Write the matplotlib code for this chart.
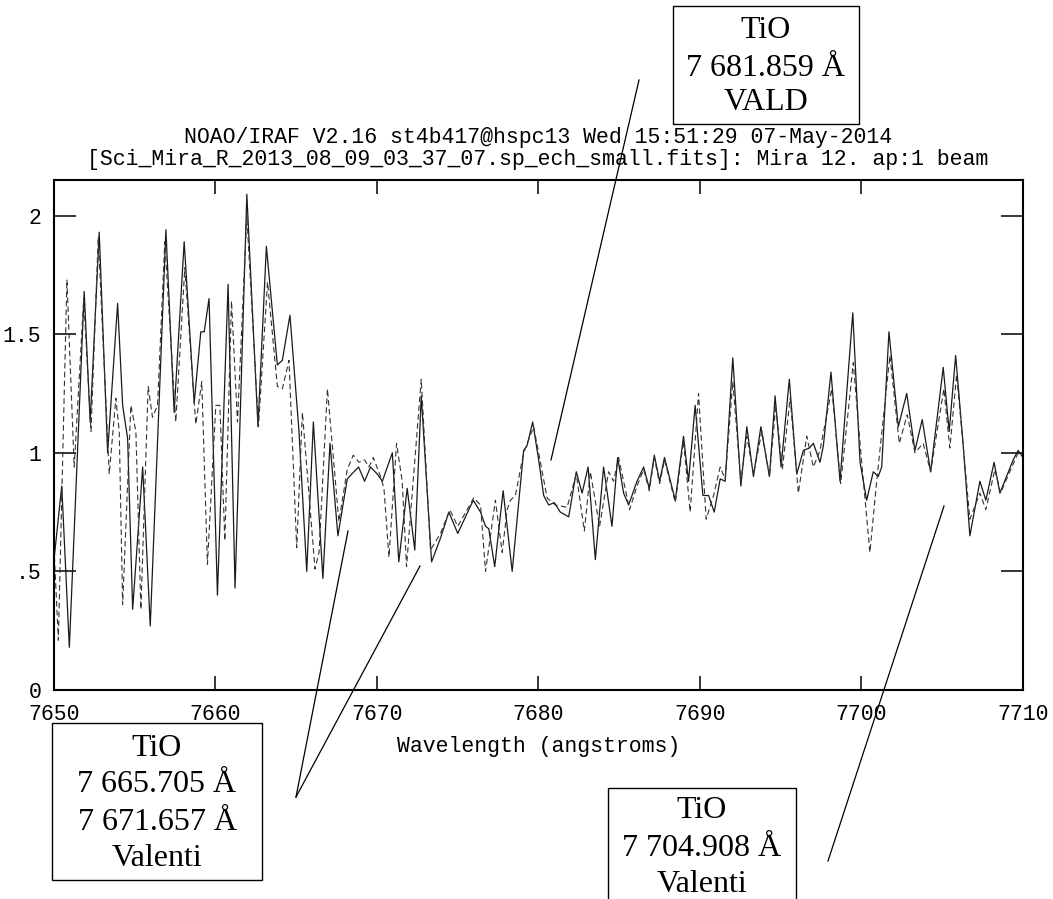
import matplotlib
matplotlib.use("Agg")
import matplotlib.pyplot as plt
import matplotlib.transforms as mtransforms
from matplotlib.patches import Rectangle
from matplotlib.lines import Line2D

# spectrum 1 (solid)
wl_solid = [7650.00, 7650.48, 7650.95, 7651.87, 7652.24, 7652.80, 7653.32, 7653.94, 7654.25, 7654.56,
            7654.87, 7655.49, 7655.96, 7656.93, 7657.44, 7658.06, 7658.68, 7659.09, 7659.30, 7659.60,
            7660.12, 7660.78, 7661.21, 7661.94, 7662.63, 7663.15, 7663.83, 7664.14, 7664.61, 7665.17,
            7665.65, 7666.06, 7666.65, 7667.09, 7667.58, 7668.16, 7668.57, 7668.86, 7669.23, 7669.60,
            7670.02, 7670.33, 7670.95, 7671.35, 7671.87, 7672.34, 7672.74, 7673.38, 7673.93, 7674.45,
            7675.00, 7675.48, 7675.96, 7676.41, 7676.72, 7676.92, 7677.29, 7677.81, 7678.37, 7679.08,
            7679.29, 7679.64, 7680.01, 7680.32, 7680.63, 7680.98, 7681.35, 7681.87, 7682.34, 7682.70,
            7683.07, 7683.52, 7684.03, 7684.55, 7684.90, 7685.27, 7685.58, 7686.10, 7686.51, 7686.86,
            7687.17, 7687.50, 7687.80, 7688.47, 7688.98, 7689.29, 7689.70, 7690.18, 7690.53, 7690.88,
            7691.25, 7691.56, 7692.03, 7692.53, 7692.90, 7693.31, 7693.77, 7694.30, 7694.65, 7695.02,
            7695.53, 7695.99, 7696.40, 7696.77, 7697.02, 7697.43, 7697.64, 7698.11, 7698.67, 7699.46,
            7699.91, 7700.32, 7700.73, 7701.04, 7701.25, 7701.70, 7702.28, 7702.80, 7703.31, 7703.76,
            7704.28, 7705.06, 7705.43, 7705.83, 7706.30, 7706.71, 7707.33, 7707.70, 7708.21, 7708.57,
            7708.98, 7709.39, 7709.70, 7710.00]
flux_solid = [0.55, 0.86, 0.18, 1.68, 1.13, 1.93, 1.00, 1.63, 1.20, 1.06,
              0.34, 0.94, 0.27, 1.94, 1.17, 1.89, 1.21, 1.51, 1.51, 1.65,
              0.40, 1.71, 0.43, 2.09, 1.11, 1.87, 1.37, 1.39, 1.58, 1.09,
              0.50, 1.13, 0.47, 1.04, 0.65, 0.89, 0.92, 0.94, 0.88, 0.94,
              0.91, 0.88, 1.00, 0.54, 0.85, 0.59, 1.24, 0.54, 0.64, 0.75,
              0.66, 0.73, 0.80, 0.75, 0.69, 0.68, 0.52, 0.84, 0.50, 1.01,
              1.03, 1.13, 0.97, 0.82, 0.78, 0.79, 0.75, 0.73, 0.92, 0.83,
              0.94, 0.55, 0.94, 0.69, 0.98, 0.83, 0.78, 0.88, 0.94, 0.85,
              0.99, 0.88, 0.98, 0.80, 1.07, 0.88, 1.20, 0.82, 0.82, 0.75,
              0.89, 0.88, 1.40, 0.86, 1.11, 0.90, 1.11, 0.90, 1.24, 0.94,
              1.31, 0.91, 1.01, 1.02, 1.04, 0.96, 1.03, 1.34, 0.88, 1.59,
              0.96, 0.80, 0.92, 0.90, 0.94, 1.51, 1.11, 1.25, 1.01, 1.14,
              0.92, 1.36, 1.09, 1.41, 1.03, 0.65, 0.88, 0.80, 0.96, 0.83,
              0.90, 0.97, 1.01, 0.98]

# spectrum 2 (dashed)
wl_dashed = [7650.00, 7650.27, 7650.80, 7651.25, 7651.84, 7652.29, 7652.74, 7653.42, 7653.83, 7654.04,
             7654.25, 7654.76, 7655.07, 7655.38, 7655.83, 7656.10, 7656.41, 7656.86, 7657.54, 7658.10,
             7658.78, 7659.15, 7659.50, 7660.02, 7660.27, 7660.58, 7660.99, 7661.36, 7661.94, 7662.66,
             7663.22, 7663.83, 7664.14, 7664.55, 7665.03, 7665.38, 7666.16, 7666.41, 7666.93, 7667.64,
             7668.16, 7668.53, 7668.88, 7669.23, 7669.50, 7669.77, 7670.22, 7670.43, 7670.74, 7671.21,
             7671.56, 7671.83, 7672.18, 7672.74, 7673.31, 7673.93, 7674.51, 7675.00, 7675.99, 7676.41,
             7676.72, 7677.33, 7677.75, 7678.06, 7678.26, 7678.57, 7679.08, 7679.70, 7680.12, 7680.53,
             7681.04, 7681.77, 7682.34, 7682.84, 7683.21, 7683.78, 7684.34, 7684.65, 7684.96, 7685.64,
             7686.10, 7686.51, 7686.86, 7687.17, 7687.50, 7687.80, 7688.47, 7688.98, 7689.39, 7689.91,
             7690.38, 7690.84, 7691.25, 7691.56, 7692.03, 7692.53, 7692.90, 7693.31, 7693.83, 7694.30,
             7694.69, 7695.10, 7695.58, 7696.09, 7696.61, 7697.02, 7697.43, 7698.16, 7698.71, 7699.49,
             7700.01, 7700.52, 7700.94, 7701.76, 7702.34, 7702.83, 7703.31, 7703.82, 7704.28, 7705.10,
             7705.47, 7705.89, 7706.71, 7707.33, 7707.70, 7708.26, 7708.61, 7709.18, 7709.70, 7710.00]
flux_dashed = [0.60, 0.21, 1.73, 0.94, 1.65, 1.09, 1.91, 0.91, 1.23, 1.09,
               0.36, 1.20, 1.09, 0.34, 1.28, 1.15, 1.20, 1.89, 1.13, 1.78,
               1.12, 1.30, 0.53, 1.20, 1.20, 0.63, 1.64, 1.13, 2.00, 1.11,
               1.72, 1.28, 1.27, 1.39, 0.60, 1.17, 0.51, 0.58, 1.27, 0.71,
               0.93, 0.99, 0.96, 0.97, 0.94, 0.98, 0.90, 0.85, 0.56, 1.04,
               0.88, 0.52, 0.83, 1.31, 0.59, 0.66, 0.76, 0.69, 0.81, 0.78,
               0.50, 0.80, 0.58, 0.76, 0.80, 0.82, 1.00, 1.11, 0.96, 0.81,
               0.78, 0.77, 0.91, 0.67, 0.92, 0.69, 0.92, 0.88, 0.98, 0.76,
               0.86, 0.93, 0.84, 0.98, 0.87, 0.97, 0.79, 1.05, 0.75, 1.25,
               0.72, 0.82, 0.94, 0.89, 1.30, 0.88, 1.07, 0.91, 1.09, 0.90,
               1.20, 0.93, 1.23, 0.83, 1.07, 0.94, 1.01, 1.27, 0.87, 1.38,
               0.96, 0.58, 0.88, 1.41, 1.04, 1.16, 1.00, 1.04, 0.92, 1.27,
               1.02, 1.33, 0.72, 0.83, 0.76, 0.93, 0.83, 0.92, 1.00, 1.00]

x_ticks = [7650, 7660, 7670, 7680, 7690, 7700, 7710]
y_ticks = [0, 0.5, 1, 1.5, 2]
y_ticklabels = ["0", ".5", "1", "1.5", "2"]

title_lines = ["NOAO/IRAF V2.16 st4b417@hspc13 Wed 15:51:29 07-May-2014",
               "[Sci_Mira_R_2013_08_09_03_37_07.sp_ech_small.fits]: Mira 12. ap:1 beam"]

W, H = 1053, 899
fig = plt.figure(figsize=(W / 100, H / 100), dpi=100)
# pixel coords measured from the top-left corner
px = mtransforms.Affine2D().scale(1 / W, -1 / H).translate(0, 1) + fig.transFigure

ax = fig.add_axes([54 / W, 1 - 690 / H, 969 / W, 510 / H])
ax.plot(wl_solid, flux_solid, color="#1a1a1a", lw=0.9)
ax.plot(wl_dashed, flux_dashed, color="#333333", lw=0.8, linestyle=(0, (5, 3)))
ax.set_xlim(7650, 7710)
ax.set_ylim(0, 2.15)

mono = "Liberation Mono"
ax.set_xticks(x_ticks)
ax.set_xticklabels([str(t) for t in x_ticks], family=mono, fontsize=15.5)
ax.set_yticks(y_ticks)
ax.set_yticklabels(y_ticklabels, family=mono, fontsize=15.5)
ax.tick_params(axis="x", direction="in", length=10, width=1.1, top=True, pad=10)
ax.tick_params(axis="y", direction="in", length=16, width=1.1, right=True, pad=9)
for s in ax.spines.values():
    s.set_linewidth(1.5)
ax.set_xlabel("Wavelength (angstroms)", family=mono, fontsize=15.5, labelpad=8)

fig.text(538 / W, 1 - 138 / H, title_lines[0], family=mono, fontsize=15.5, ha="center", va="center")
fig.text(538 / W, 1 - 160 / H, title_lines[1], family=mono, fontsize=15.5, ha="center", va="center")

serif = "Liberation Serif"
boxes = [
    # (left, top, width, height, text lines, line centres)
    (673, 6, 186, 118, ["TiO", "7 681.859 Å", "VALD"], [30, 68, 103]),
    (52, 723, 210, 157, ["TiO", "7 665.705 Å", "7 671.657 Å", "Valenti"], [748, 785, 822, 858]),
    (608, 788, 188, 130, ["TiO", "7 704.908 Å", "Valenti"], [810, 848, 885]),
]
for left, top, w, h, lines, ys in boxes:
    fig.add_artist(Rectangle((left, top + h), w, -h, transform=px, fill=False,
                             edgecolor="black", lw=1.0))
    for txt, yc in zip(lines, ys):
        fig.text(left + w / 2, yc, txt, transform=px, family=serif, fontsize=23,
                 ha="center", va="center")

pointers = [((639, 80), (551, 460)),
            ((296, 797), (348, 531)),
            ((296, 797), (420, 566)),
            ((828, 861), (944, 506))]
for (x0, y0), (x1, y1) in pointers:
    fig.add_artist(Line2D([x0, x1], [y0, y1], transform=px, color="black", lw=0.9))

fig.savefig("out.png", dpi=100)
